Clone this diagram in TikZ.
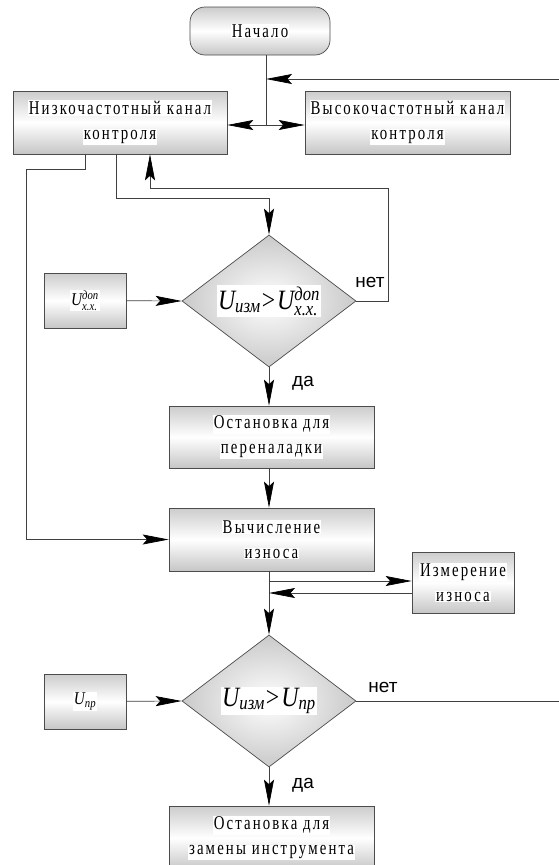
\documentclass[tikz,border=0pt]{standalone}
\usepackage{amsmath}
\usepackage{fontspec}
\setmainfont{Liberation Serif}[FakeStretch=0.85]
\newfontfamily\boxfont{Liberation Serif}[FakeStretch=0.76,LetterSpace=11]
\newfontfamily\lblfont{Liberation Sans}
\usetikzlibrary{arrows.meta,shapes.geometric,calc}
\newcommand\wb[1]{\colorbox{white}{#1}}
\setlength{\fboxsep}{1pt}
\begin{document}
\begin{tikzpicture}[x=1pt,y=-1pt,
  box/.style={draw=black!70, line width=0.7pt, top color=gray!40, bottom color=gray!45, middle color=white,
    minimum width=#1, inner sep=0pt, align=center, font=\boxfont\fontsize{19.5}{25}\selectfont},
  box/.default=205pt,
  dia/.style={diamond, draw=black!70, line width=0.7pt, inner color=white, outer color=gray!42,
    minimum width=174pt, minimum height=132pt, inner sep=0pt, aspect=1.32},
  ln/.style={draw=black!75, line width=0.7pt},
  arr/.style={ln, -{Stealth[length=26pt,width=10pt,inset=4.5pt,black]}},
  lbl/.style={font=\lblfont\fontsize{19}{19}\selectfont, inner sep=0pt},
  formula/.style={font=\fontsize{28}{28}\selectfont\itshape},
  smallf/.style={font=\fontsize{18}{18}\selectfont\itshape}]
\useasboundingbox (0,0) rectangle (559,865);

% nodes
\node[box=140pt, minimum height=48pt, rounded corners=15pt] (start) at (260,31) {\wb{Начало}};
\node[box=214pt, minimum height=63pt] (low) at (120,122.5) {\wb{Низкочастотный канал}\\\wb{контроля}};
\node[box=205pt, minimum height=63pt] (high) at (407.5,122.5) {\wb{Высокочастотный канал}\\\wb{контроля}};
\node[dia, formula] (d1) at (269,301) {\colorbox{white}{U$_{\text{изм}}$\kern1pt\textup{>}\kern2pt U$^{\text{доп}}_{\text{x.x.}}$}};
\node[box=82pt, minimum height=55pt, smallf] (ud) at (85,300.5) {\colorbox{white}{U$^{\text{доп}}_{\text{x.x.}}$}};
\node[box, minimum height=62pt] (stop1) at (271.5,437) {\wb{Остановка для}\\\wb{переналадки}};
\node[box, minimum height=63pt] (calc) at (271.5,539.5) {\wb{Вычисление}\\\wb{износа}};
\node[box=102pt, minimum height=61pt] (meas) at (463,582.5) {\wb{Измерение}\\\wb{износа}};
\node[dia, formula] (d2) at (269,701) {\colorbox{white}{U$_{\text{изм}}$\kern1pt\textup{>}\kern2pt U$_{\text{пр}}$}};
\node[box=82pt, minimum height=55pt, smallf] (upr) at (85,701.5) {\colorbox{white}{U$_{\text{пр}}$}};
\node[box, minimum height=64pt] (stop2) at (271.5,838) {\wb{Остановка для}\\\wb{замены инструмента}};

% labels
\node[lbl] (no1) at (370,282) {нет};
\node[lbl] (yes1) at (303,383) {да};
\node[lbl] (no2) at (383,687) {нет};
\node[lbl] (yes2) at (303,785) {да};

% coordinates
\coordinate (j1) at (266,125);
\coordinate (rin) at (559,79);
\coordinate (rout) at (559,701);
\coordinate (c1) at (269,581);
\coordinate (c2) at (269,593);

% connectors
\draw[ln] (start.south -| j1) -- (j1);
\draw[arr] (rin) -- (rin -| j1);
\draw[arr] (j1) -- (j1 -| low.east);
\draw[arr] (j1) -- (j1 -| high.west);
\draw[arr] (low.south -| 85,0) -- (85,169) -- (26,169) -- (26,539.5) -- (calc.west);
\draw[arr] (low.south -| 116,0) -- (116,198) -- (269,198) -- (d1.north);
\draw[arr] (d1.east) -- (388,301) -- (388,188) -- (150,188) -- (low.south -| 150,0);
\draw[arr] (ud) -- (d1.west);
\draw[arr] (d1.south) -- (d1.south |- stop1.north);
\draw[arr] (stop1.south -| 269,0) -- (calc.north -| 269,0);
\draw[arr] (calc.south -| 269,0) -- (d2.north);
\draw[arr] (c1) -- (c1 -| meas.west);
\draw[arr] (c2 -| meas.west) -- (c2);
\draw[arr] (upr) -- (d2.west);
\draw[ln] (d2.east) -- (rout);
\draw[arr] (d2.south) -- (d2.south |- stop2.north);
\end{tikzpicture}
\end{document}
